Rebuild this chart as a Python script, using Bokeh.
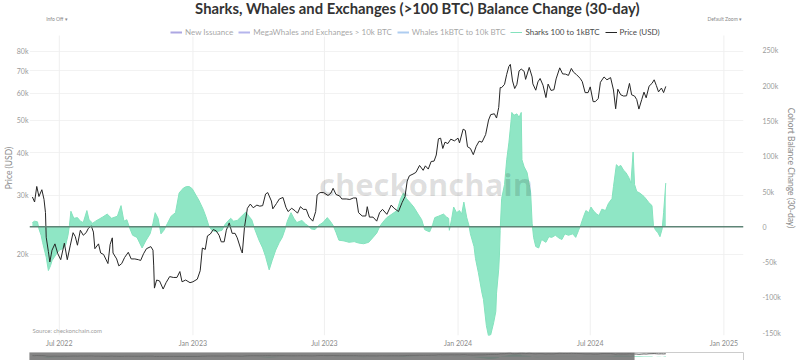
import pandas as pd
from bokeh.plotting import figure
from bokeh.models import (Range1d, LogScale, LogAxis, FixedTicker, NumeralTickFormatter,
                          DatetimeTickFormatter, Legend, LegendItem, Span, Label, Grid,
                          ColumnDataSource, BoxAnnotation)
from bokeh.layouts import column
from bokeh.embed import file_html
from bokeh.resources import INLINE

# ---------------- data ----------------
price_dates = [
    "2022-05-25", "2022-05-28", "2022-05-31", "2022-06-03", "2022-06-07", "2022-06-10", "2022-06-12",
    "2022-06-13", "2022-06-16", "2022-06-18", "2022-06-21", "2022-06-25", "2022-06-29", "2022-07-03",
    "2022-07-08", "2022-07-12", "2022-07-16", "2022-07-20", "2022-07-23", "2022-07-26", "2022-07-30",
    "2022-08-03", "2022-08-07", "2022-08-10", "2022-08-14", "2022-08-17", "2022-08-19", "2022-08-24",
    "2022-08-27", "2022-08-31", "2022-09-06", "2022-09-09", "2022-09-12", "2022-09-13", "2022-09-18",
    "2022-09-21", "2022-09-25", "2022-09-29", "2022-10-04", "2022-10-08", "2022-10-13", "2022-10-18",
    "2022-10-21", "2022-10-25", "2022-10-29", "2022-11-04", "2022-11-07", "2022-11-08", "2022-11-09",
    "2022-11-12", "2022-11-16", "2022-11-21", "2022-11-25", "2022-11-30", "2022-12-05", "2022-12-10",
    "2022-12-14", "2022-12-17", "2022-12-22", "2022-12-28", "2023-01-01", "2023-01-07", "2023-01-11",
    "2023-01-14", "2023-01-18", "2023-01-21", "2023-01-25", "2023-01-29", "2023-02-02", "2023-02-06",
    "2023-02-09", "2023-02-13", "2023-02-16", "2023-02-20", "2023-02-24", "2023-02-28", "2023-03-03",
    "2023-03-09", "2023-03-10", "2023-03-13", "2023-03-17", "2023-03-21", "2023-03-25", "2023-03-30",
    "2023-04-03", "2023-04-07", "2023-04-11", "2023-04-14", "2023-04-19", "2023-04-21", "2023-04-26",
    "2023-04-30", "2023-05-05", "2023-05-09", "2023-05-12", "2023-05-17", "2023-05-22", "2023-05-25",
    "2023-05-29", "2023-06-02", "2023-06-06", "2023-06-10", "2023-06-15", "2023-06-19", "2023-06-21",
    "2023-06-25", "2023-06-30", "2023-07-06", "2023-07-10", "2023-07-13", "2023-07-17", "2023-07-22",
    "2023-07-25", "2023-07-31", "2023-08-05", "2023-08-10", "2023-08-14", "2023-08-17", "2023-08-22",
    "2023-08-27", "2023-08-29", "2023-09-01", "2023-09-06", "2023-09-11", "2023-09-15", "2023-09-19",
    "2023-09-25", "2023-10-01", "2023-10-05", "2023-10-11", "2023-10-16", "2023-10-20", "2023-10-23",
    "2023-10-26", "2023-10-31", "2023-11-04", "2023-11-09", "2023-11-14", "2023-11-17", "2023-11-21",
    "2023-11-25", "2023-11-29", "2023-12-02", "2023-12-05", "2023-12-08", "2023-12-11", "2023-12-14",
    "2023-12-18", "2023-12-22", "2023-12-27", "2024-01-01", "2024-01-03", "2024-01-08", "2024-01-11",
    "2024-01-14", "2024-01-18", "2024-01-22", "2024-01-26", "2024-01-30", "2024-02-03", "2024-02-08",
    "2024-02-12", "2024-02-15", "2024-02-20", "2024-02-23", "2024-02-26", "2024-02-28", "2024-03-01",
    "2024-03-05", "2024-03-08", "2024-03-11", "2024-03-13", "2024-03-16", "2024-03-19", "2024-03-22",
    "2024-03-25", "2024-03-28", "2024-04-01", "2024-04-03", "2024-04-08", "2024-04-12", "2024-04-13",
    "2024-04-17", "2024-04-20", "2024-04-23", "2024-04-27", "2024-05-01", "2024-05-04", "2024-05-08",
    "2024-05-12", "2024-05-15", "2024-05-20", "2024-05-24", "2024-05-28", "2024-06-01", "2024-06-05",
    "2024-06-08", "2024-06-12", "2024-06-17", "2024-06-20", "2024-06-24", "2024-06-28", "2024-07-01",
    "2024-07-05", "2024-07-08", "2024-07-12", "2024-07-15", "2024-07-20", "2024-07-24", "2024-07-29",
    "2024-08-02", "2024-08-05", "2024-08-08", "2024-08-12", "2024-08-16", "2024-08-20", "2024-08-24",
    "2024-08-27", "2024-08-31", "2024-09-03", "2024-09-06", "2024-09-10", "2024-09-13", "2024-09-16",
    "2024-09-20", "2024-09-24", "2024-09-27", "2024-09-30", "2024-10-03", "2024-10-07", "2024-10-10",
    "2024-10-13",
]
price_usd = [
    29600, 28600, 31800, 29700, 31100, 29100, 26600,
    22500, 20400, 19000, 20600, 21500, 20100, 19300,
    21600, 19300, 21200, 23200, 22600, 21300, 23600,
    22800, 23200, 23900, 24300, 23300, 20800, 21500,
    20200, 20000, 18800, 21400, 22400, 20200, 19400,
    18500, 18800, 19600, 20300, 19400, 19400, 19300,
    19200, 20100, 20800, 21100, 20600, 18500, 15900,
    16800, 16700, 15800, 16500, 17200, 17100, 17100,
    17800, 16600, 16800, 16500, 16600, 16900, 17900,
    20900, 20700, 22700, 23000, 23700, 23500, 22800,
    21800, 21800, 23600, 24800, 23100, 23100, 22400,
    20400, 20200, 24100, 27400, 28200, 27500, 28000,
    27800, 27900, 30200, 30500, 28800, 27300, 28300,
    29200, 29500, 27600, 26800, 27400, 26900, 26500,
    27700, 27200, 27200, 25800, 25100, 26800, 30000,
    30500, 30500, 29900, 30400, 31400, 30100, 29800,
    29200, 29200, 29100, 29400, 29400, 26600, 26000,
    26000, 27700, 25800, 25800, 25100, 26600, 27200,
    26300, 28000, 27400, 26800, 28500, 29700, 33000,
    34200, 34600, 35000, 36700, 35500, 36600, 35800,
    37700, 37800, 39400, 44000, 44200, 41200, 43000,
    42600, 43900, 43400, 44200, 42800, 47000, 46600,
    41700, 41200, 39500, 41800, 43300, 43000, 45300,
    50000, 51900, 52200, 50700, 54500, 62400, 62400,
    63800, 68300, 72100, 73100, 65300, 62000, 63800,
    69900, 70800, 69700, 66000, 71600, 67100, 64000,
    61300, 64900, 66400, 63400, 58300, 63900, 61200,
    61500, 66200, 71400, 68500, 68400, 67800, 71100,
    69300, 68200, 66500, 65000, 60300, 60300, 62700,
    56700, 56700, 57900, 64700, 67100, 65800, 66800,
    61400, 54000, 61700, 59400, 58900, 59000, 64200,
    59400, 58900, 57500, 53900, 57600, 60500, 58200,
    63000, 64200, 65800, 63300, 60600, 62200, 60300,
    62900,
]

shark_dates = [
    "2022-05-25", "2022-05-28", "2022-06-01", "2022-06-03", "2022-06-06", "2022-06-08", "2022-06-13",
    "2022-06-16", "2022-06-19", "2022-06-21", "2022-06-26", "2022-07-01", "2022-07-06", "2022-07-10",
    "2022-07-13", "2022-07-15", "2022-07-17", "2022-07-21", "2022-07-26", "2022-07-30", "2022-08-03",
    "2022-08-08", "2022-08-11", "2022-08-16", "2022-08-20", "2022-08-25", "2022-08-30", "2022-09-05",
    "2022-09-11", "2022-09-19", "2022-09-24", "2022-09-28", "2022-10-02", "2022-10-06", "2022-10-10",
    "2022-10-16", "2022-10-23", "2022-10-28", "2022-11-03", "2022-11-07", "2022-11-10", "2022-11-14",
    "2022-11-18", "2022-11-22", "2022-11-27", "2022-12-02", "2022-12-08", "2022-12-13", "2022-12-19",
    "2022-12-23", "2022-12-27", "2022-12-31", "2023-01-05", "2023-01-09", "2023-01-15", "2023-01-19",
    "2023-01-23", "2023-01-27", "2023-02-02", "2023-02-06", "2023-02-10", "2023-02-14", "2023-02-18",
    "2023-02-22", "2023-02-26", "2023-03-03", "2023-03-08", "2023-03-15", "2023-03-19", "2023-03-23",
    "2023-03-27", "2023-04-02", "2023-04-07", "2023-04-11", "2023-04-16", "2023-04-20", "2023-04-25",
    "2023-04-30", "2023-05-04", "2023-05-08", "2023-05-11", "2023-05-16", "2023-05-20", "2023-05-24",
    "2023-05-31", "2023-06-05", "2023-06-09", "2023-06-13", "2023-06-18", "2023-06-23", "2023-06-29",
    "2023-07-05", "2023-07-09", "2023-07-13", "2023-07-17", "2023-07-21", "2023-07-28", "2023-08-04",
    "2023-08-11", "2023-08-17", "2023-08-24", "2023-08-31", "2023-09-06", "2023-09-11", "2023-09-15",
    "2023-09-19", "2023-09-25", "2023-10-02", "2023-10-09", "2023-10-14", "2023-10-18", "2023-10-22",
    "2023-10-28", "2023-11-01", "2023-11-07", "2023-11-12", "2023-11-16", "2023-11-20", "2023-11-23",
    "2023-11-27", "2023-11-30", "2023-12-05", "2023-12-12", "2023-12-16", "2023-12-19", "2023-12-20",
    "2023-12-23", "2023-12-26", "2023-12-30", "2024-01-03", "2024-01-06", "2024-01-09", "2024-01-13",
    "2024-01-16", "2024-01-18", "2024-01-23", "2024-01-25", "2024-01-29", "2024-02-03", "2024-02-05",
    "2024-02-09", "2024-02-12", "2024-02-15", "2024-02-19", "2024-02-22", "2024-02-23", "2024-02-26",
    "2024-02-27", "2024-02-28", "2024-03-01", "2024-03-05", "2024-03-08", "2024-03-11", "2024-03-14",
    "2024-03-15", "2024-03-18", "2024-03-22", "2024-03-25", "2024-03-28", "2024-03-29", "2024-04-01",
    "2024-04-05", "2024-04-08", "2024-04-10", "2024-04-12", "2024-04-14", "2024-04-17", "2024-04-21",
    "2024-04-25", "2024-05-01", "2024-05-05", "2024-05-09", "2024-05-14", "2024-05-19", "2024-05-23",
    "2024-05-27", "2024-06-01", "2024-06-07", "2024-06-11", "2024-06-15", "2024-06-18", "2024-06-22",
    "2024-06-25", "2024-06-29", "2024-07-02", "2024-07-06", "2024-07-10", "2024-07-13", "2024-07-17",
    "2024-07-22", "2024-07-26", "2024-07-31", "2024-08-02", "2024-08-06", "2024-08-09", "2024-08-12",
    "2024-08-16", "2024-08-19", "2024-08-23", "2024-08-26", "2024-08-29", "2024-08-31", "2024-09-03",
    "2024-09-07", "2024-09-13", "2024-09-17", "2024-09-19", "2024-09-24", "2024-09-26", "2024-09-29",
    "2024-10-02", "2024-10-05", "2024-10-08", "2024-10-10", "2024-10-13",
]
# 30-day balance change of the 100 to 1k BTC cohort, thousands of BTC
shark_change_k = [
    6, 8, 7, -3, -12, -22, -43,
    -62, -55, -48, -40, -33, -31, -25,
    -12, 2, 22, 12, 13, 8, 6,
    23, 10, 5, 8, 11, 14, 18,
    12, 15, 30, 8, 10, -2, -12,
    -15, -30, -20, -10, 5, 20, 12,
    -10, -5, 5, 15, 20, 48, 55,
    57, 57, 54, 45, 38, 25, 14,
    1, -5, -7, -6, -5, 3, 8,
    12, 8, 9, 14, 21, 15, 10,
    -3, -19, -30, -42, -61, -48, -33,
    -22, -15, -3, 8, 20, 12, 6,
    9, 4, 1, -3, -4, 2, 6,
    13, 8, 2, -8, -19, -20, -22,
    -21, -23, -24, -22, -15, -9, 0,
    6, 13, 18, 23, 40, 48, 40,
    33, 28, 18, 10, -4, -6, -7,
    3, 13, 15, 18, 14, 12, -5,
    10, 28, 20, 23, 18, 35, 13,
    2, -10, -28, -45, -65, -94, -103,
    -140, -155, -153, -136, -120, -94, -60,
    -40, -5, 40, 60, 95, 119, 150,
    162, 158, 160, 155, 162, 95, 85,
    77, 60, 48, 5, -15, -28, -30,
    -18, -22, -14, -15, -12, -16, -18,
    -10, -12, -10, -15, -5, 3, 15,
    23, 20, 28, 22, 18, 16, 25,
    23, 33, 40, 57, 88, 85, 87,
    80, 77, 70, 62, 106, 60, 50,
    48, 43, 38, 35, 30, 2, -5,
    -8, -14, -3, 20, 62,
]
shark_change_btc = [v * 1000 for v in shark_change_k]

# cohorts switched off in the legend (greyed out, not drawn on the chart)
hidden_cohorts = ["New Issuance", "MegaWhales and Exchanges > 10k BTC", "Whales 1kBTC to 10k BTC"]
hidden_colors = ["#5b4fc4", "#6a6ad8", "#5d9be0"]

price_ticks = [20000, 30000, 40000, 50000, 60000, 70000, 80000]
balance_ticks = [-150000, -100000, -50000, 0, 50000, 100000, 150000, 200000, 250000]
date_ticks = ["2022-07-01", "2023-01-01", "2023-07-01", "2024-01-01", "2024-07-01", "2025-01-01"]

x_start, x_end = "2022-05-21", "2025-01-28"
price_range = (11510, 113000)
balance_range = (-154000, 320600)
grid_top = 271000          # top of the plotting area (header lies above it)
slider_mask_end = "2024-08-31"

TITLE = "Sharks, Whales and Exchanges (>100 BTC) Balance Change (30-day)"
FONT = "Lato"


def ms(d):
    return pd.Timestamp(d).value / 1e6


price_src = ColumnDataSource(dict(date=pd.to_datetime(price_dates), price=price_usd))
shark_src = ColumnDataSource(dict(date=pd.to_datetime(shark_dates), change=shark_change_btc))
grid_src = ColumnDataSource(dict(x=pd.to_datetime(date_ticks),
                                 y0=[balance_range[0]] * len(date_ticks),
                                 y1=[grid_top] * len(date_ticks)))

# ---------------- main figure ----------------
p = figure(width=798, height=350, x_axis_type="datetime", y_axis_location="right",
           x_range=Range1d(ms(x_start), ms(x_end)),
           y_range=Range1d(*balance_range),
           output_backend="svg", toolbar_location=None,
           min_border_left=29, min_border_right=54, min_border_top=0, min_border_bottom=15)
p.extra_y_ranges = {"price": Range1d(*price_range)}
p.extra_y_scales = {"price": LogScale()}
p.outline_line_color = None
p.background_fill_color = "white"

# right axis (balance)
ra = p.yaxis[0]
ra.ticker = FixedTicker(ticks=balance_ticks)
ra.formatter = NumeralTickFormatter(format="0a")
ra.axis_label = "Cohort Balance Change (30-day)"

# left axis (price, log)
la = LogAxis(y_range_name="price", ticker=FixedTicker(ticks=price_ticks),
             formatter=NumeralTickFormatter(format="0a"), axis_label="Price (USD)")
p.add_layout(la, "left")

for ax in (ra, la):
    ax.axis_line_color = None
    ax.major_tick_line_color = None
    ax.minor_tick_line_color = None
    ax.major_tick_out = 0
    ax.major_tick_in = 0
    ax.minor_tick_out = 0
    ax.major_label_text_font = FONT
    ax.major_label_text_font_size = "7px"
    ax.major_label_text_color = "#9a9a9a"
    ax.axis_label_text_font = FONT
    ax.axis_label_text_font_size = "8.5px"
    ax.axis_label_text_font_style = "normal"
    ax.axis_label_text_color = "#8a8a8a"
la.major_label_standoff = 1
la.axis_label_standoff = 0
ra.major_label_standoff = 19
ra.axis_label_standoff = 2

xa = p.xaxis[0]
xa.ticker = FixedTicker(ticks=[ms(d) for d in date_ticks])
xa.formatter = DatetimeTickFormatter(days="%b %Y", months="%b %Y", years="%b %Y")
xa.axis_line_color = None
xa.major_tick_line_color = None
xa.minor_tick_line_color = None
xa.major_tick_out = 0
xa.major_tick_in = 0
xa.minor_tick_out = 0
xa.major_label_text_font = FONT
xa.major_label_text_font_size = "7px"
xa.major_label_text_color = "#8a8a8a"
xa.major_label_standoff = 3

p.grid.visible = False
p.add_layout(Grid(dimension=1, ticker=FixedTicker(ticks=price_ticks), y_range_name="price",
                  grid_line_color="#f2f2f2"))
p.segment(x0="x", x1="x", y0="y0", y1="y1", source=grid_src, line_color="#efefef", line_width=1)

# watermark
p.add_layout(Label(x=ms("2023-11-18"), y=61000, text="checkonchain", text_align="center",
                   text_baseline="middle", text_font="Open Sans", text_font_style="bold",
                   text_font_size="31px", text_color="#000000", text_alpha=0.13))

# sharks area
p.varea(x="date", y1=0, y2="change", source=shark_src, fill_color="#8fe6c5", fill_alpha=1.0)
shark_line = p.line(x="date", y="change", source=shark_src, line_color="#84e2bd", line_width=1)

# zero line
p.add_layout(Span(location=0, dimension="width", line_color="#5e8476", line_width=1.5))

# price
price_line = p.line(x="date", y="price", source=price_src, y_range_name="price",
                    line_color="#262626", line_width=1)

# legend stubs for the switched-off cohorts: muted, and the muted style is fully
# transparent, so nothing is drawn on the chart; only their legend swatch shows
hidden_renderers = [
    p.line(x="date", y="change", source=shark_src, line_color=c, line_width=2,
           muted=True, muted_line_alpha=0.0)
    for c in hidden_colors
]

legend = Legend(items=[LegendItem(label=lab, renderers=[r])
                       for lab, r in zip(hidden_cohorts, hidden_renderers)] + [
    LegendItem(label="Sharks 100 to 1kBTC", renderers=[shark_line]),
    LegendItem(label="Price (USD)", renderers=[price_line]),
], orientation="horizontal", click_policy="mute", inactive_fill_color="white",
    inactive_fill_alpha=0.5, border_line_color=None, background_fill_alpha=0,
    label_text_font=FONT, label_text_font_size="8px", label_text_color="#4a4a4a",
    glyph_width=12, glyph_height=8, label_height=10, label_standoff=3, spacing=5,
    padding=2, margin=0, location=(141, 298))
p.add_layout(legend)

# title
p.add_layout(Label(x=ms("2023-11-06"), y=309300, text=TITLE, text_align="center",
                   text_baseline="middle", text_font=FONT, text_font_size="14.8px",
                   text_font_style="bold", text_color="#333333"))

# source note
p.add_layout(Label(x=ms("2022-05-25"), y=-147000, text="Source: checkonchain.com",
                   text_baseline="middle", text_font=FONT, text_font_size="6px",
                   text_color="#a0a0a0"))

# small control captions
p.add_layout(Label(x=ms("2022-06-13"), y=295000, text="Info Off ▾", text_baseline="middle",
                   text_font=FONT, text_font_size="5px", text_color="#888888"))
p.add_layout(Label(x=ms("2025-01-26"), y=295000, text="Default Zoom ▾", text_align="right",
                   text_baseline="middle", text_font=FONT, text_font_size="5px",
                   text_color="#888888"))

# ---------------- range slider strip ----------------
s = figure(width=798, height=10, x_axis_type="datetime", x_range=p.x_range,
           y_range=Range1d(-400000, 300000), output_backend="svg", toolbar_location=None,
           min_border_left=29, min_border_right=54, min_border_top=0, min_border_bottom=0)
s.extra_y_ranges = {"price": Range1d(-90000, 85000)}
s.xaxis.visible = False
s.yaxis.visible = False
s.grid.visible = False
s.outline_line_color = "#cccccc"
s.varea(x="date", y1=0, y2="change", source=shark_src, fill_color="#8fe6c5")
s.line(x="date", y="price", source=price_src, y_range_name="price", line_color="#333333",
       line_width=0.8)
s.add_layout(BoxAnnotation(left=ms(x_start), right=ms(slider_mask_end), fill_color="#6f6f6f",
                           fill_alpha=0.85, line_color=None))

layout = column(p, s, spacing=0)
open("out.html", "w").write(file_html(layout, INLINE))
